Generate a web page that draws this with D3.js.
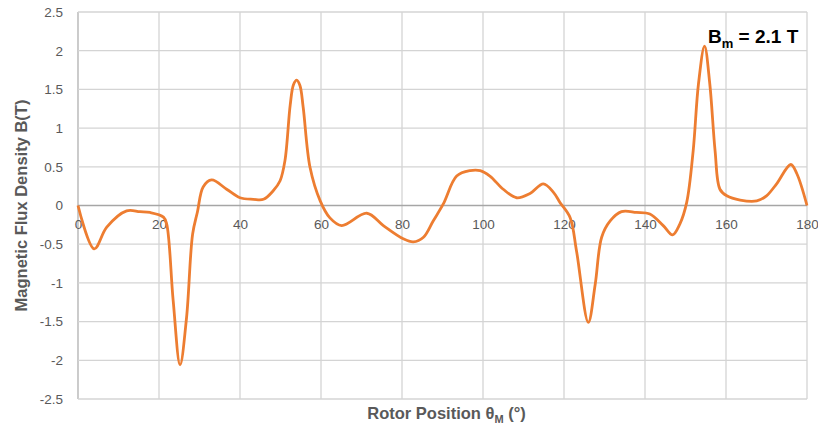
<!DOCTYPE html>
<html>
<head>
<meta charset="utf-8">
<script src="https://cdn.jsdelivr.net/npm/d3@7"></script>
<style>
  html, body { margin: 0; padding: 0; background: #fff; }
  svg text { font-family: "Liberation Sans", Arial, sans-serif; }
</style>
</head>
<body>
<svg id="chart" width="818" height="430"></svg>
<script>
// Rotor position (degrees) and measured air-gap flux density (tesla)
const positions = [0, 4.0, 7.1, 12.0, 15.3, 17.8, 21.1, 21.9, 23.5, 25.2, 26.8, 28.3, 29.5, 30.9, 33.0, 36.7, 40.0, 43.3, 45.8, 48.2, 49.9, 51.1, 52.4, 53.2, 54.0, 54.8, 55.6, 57.3, 59.8, 62.2, 65.1, 71.3, 75.4, 80.3, 82.8, 85.3, 87.7, 90.2, 93.5, 96.8, 99.3, 101.7, 105.0, 108.3, 111.6, 114.9, 117.4, 119.0, 121.5, 123.1, 126.0, 127.7, 129.3, 131.4, 134.2, 137.9, 141.2, 144.5, 146.8, 148.6, 150.3, 151.9, 153.2, 154.7, 156.0, 157.3, 158.5, 160.2, 163.5, 167.6, 170.0, 172.5, 176.0, 177.5, 180];
const fluxDensity = [0, -0.56, -0.28, -0.07, -0.08, -0.09, -0.15, -0.24, -1.23, -2.06, -1.45, -0.37, -0.08, 0.24, 0.33, 0.21, 0.10, 0.08, 0.08, 0.19, 0.32, 0.58, 1.30, 1.56, 1.62, 1.55, 1.27, 0.49, 0.06, -0.16, -0.26, -0.10, -0.26, -0.43, -0.47, -0.41, -0.20, 0.02, 0.38, 0.45, 0.45, 0.38, 0.21, 0.10, 0.155, 0.28, 0.17, 0.04, -0.155, -0.59, -1.51, -1.02, -0.41, -0.20, -0.08, -0.09, -0.11, -0.26, -0.38, -0.24, 0.04, 0.71, 1.57, 2.06, 1.57, 0.71, 0.21, 0.125, 0.07, 0.06, 0.125, 0.28, 0.53, 0.41, 0];
const xTicks = [0, 20, 40, 60, 80, 100, 120, 140, 160, 180];
const yTicks = [-2.5, -2, -1.5, -1, -0.5, 0, 0.5, 1, 1.5, 2, 2.5];
const peakLabel = { base: "B", sub: "m", rest: " = 2.1 T" };

const svg = d3.select("#chart");
const margin = { left: 78, right: 11, top: 12, bottom: 31 };
const W = 818, H = 430;

const x = d3.scaleLinear().domain([0, 180]).range([margin.left, W - margin.right]);
const y = d3.scaleLinear().domain([-2.5, 2.5]).range([H - margin.bottom, margin.top]);

const gridColor = "#d4d4d4";
const labelColor = "#595959";

// Gridlines
const grid = svg.append("g");
grid.selectAll("line.v").data(xTicks).join("line")
  .attr("x1", d => x(d)).attr("x2", d => x(d))
  .attr("y1", y(2.5)).attr("y2", y(-2.5))
  .attr("stroke", d => d === 0 ? "#b0b0b0" : gridColor).attr("stroke-width", 1.3);
grid.selectAll("line.h").data(yTicks).join("line")
  .attr("x1", x(0)).attr("x2", x(180))
  .attr("y1", d => y(d)).attr("y2", d => y(d))
  .attr("stroke", d => d === 0 ? "#a6a6a6" : gridColor).attr("stroke-width", d => d === 0 ? 1.6 : 1.3);

// Y axis labels
const yAxis = d3.axisLeft(y).tickValues(yTicks).tickSize(0).tickPadding(15)
  .tickFormat(d => String(d));
const gy = svg.append("g").attr("transform", `translate(${x(0)},0)`).call(yAxis);
gy.select(".domain").remove();
gy.selectAll("text").attr("fill", labelColor).style("font-size", "13.5px")
  .style("font-family", "'Liberation Sans', Arial, sans-serif");

// X axis labels sit just under the zero line
const xAxis = d3.axisBottom(x).tickValues(xTicks).tickSize(0).tickPadding(14)
  .tickFormat(d => String(d));
const gx = svg.append("g").attr("transform", `translate(0,${y(0)})`).call(xAxis);
gx.select(".domain").remove();
gx.selectAll("text").attr("fill", labelColor).style("font-size", "13.5px")
  .style("font-family", "'Liberation Sans', Arial, sans-serif");

// Flux density curve, smoothed through the measured points
const pts = positions.map((p, i) => [p, fluxDensity[i]]);
const line = d3.line().x(d => x(d[0])).y(d => y(d[1])).curve(d3.curveCatmullRom.alpha(0.5));
svg.append("path").datum(pts)
  .attr("d", line)
  .attr("fill", "none")
  .attr("stroke", "#ED7D31")
  .attr("stroke-width", 2.8)
  .attr("stroke-linejoin", "round");

// Axis titles
svg.append("text")
  .attr("transform", `translate(27,${(y(2.5) + y(-2.5)) / 2}) rotate(-90)`)
  .attr("text-anchor", "middle")
  .attr("fill", labelColor)
  .style("font-weight", "bold").style("font-size", "16.5px")
  .text("Magnetic Flux Density B(T)");

const xt = svg.append("text")
  .attr("x", (x(0) + x(180)) / 2 + 4).attr("y", 419)
  .attr("text-anchor", "middle")
  .attr("fill", labelColor)
  .style("font-weight", "bold").style("font-size", "16.5px");
xt.append("tspan").text("Rotor Position θ");
xt.append("tspan").attr("dy", 4).style("font-size", "11px").text("M");
xt.append("tspan").attr("dy", -4).text(" (°)");

// Peak annotation
const ann = svg.append("text")
  .attr("x", 708).attr("y", 43)
  .attr("fill", "#000")
  .style("font-weight", "bold").style("font-size", "19px");
ann.append("tspan").text(peakLabel.base);
ann.append("tspan").attr("dy", 5).style("font-size", "13px").text(peakLabel.sub);
ann.append("tspan").attr("dy", -5).text(peakLabel.rest);
</script>
</body>
</html>
